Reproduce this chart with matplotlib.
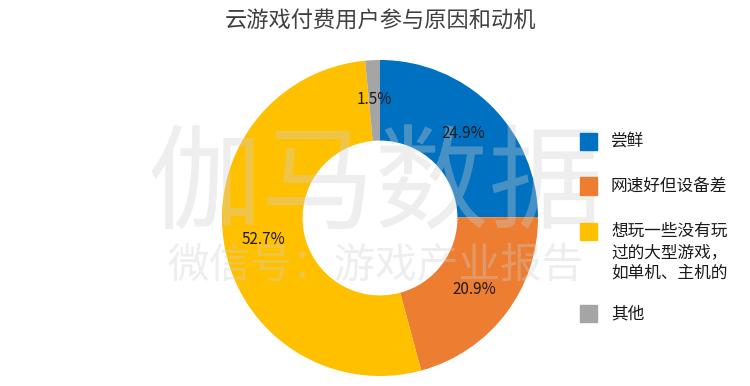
import matplotlib.pyplot as plt
from matplotlib.patches import Rectangle

plt.rcParams['font.family'] = ['Noto Sans CJK SC', 'DejaVu Sans']

# data
labels = ['尝鲜', '网速好但设备差', '想玩一些没有玩\n过的大型游戏，\n如单机、主机的', '其他']
shares = [24.9, 20.9, 52.7, 1.5]
colors = ['#0070C0', '#ED7D31', '#FFC000', '#A5A5A5']
title = '云游戏付费用户参与原因和动机'

fig = plt.figure(figsize=(7.5, 3.86), dpi=100)
W, H = 750, 386

# pie axes: centre (380, 218) px, radius 158 px
r = 158
ax = fig.add_axes([(380 - r) / W, (H - 218 - r) / H, 2 * r / W, 2 * r / H])
wedges, texts, autotexts = ax.pie(
    shares, colors=colors, startangle=90, counterclock=False,
    radius=1.0, wedgeprops=dict(width=0.51, linewidth=0),
    autopct='%.1f%%', pctdistance=0.75,
    textprops=dict(fontsize=11, color='#1a1a1a'))
for t in autotexts:
    t.set_zorder(20)
ax.set_xlim(-1, 1)
ax.set_ylim(-1, 1)
ax.set_aspect('auto')
ax.axis('off')

fig.text(380 / W, 1 - 21 / H, title, ha='center', va='center',
         fontsize=16, color='#404040')

# legend drawn by hand
leg_y = [141, 186, 231, 313]
for lab, col, y in zip(labels, colors, leg_y):
    fig.patches.append(Rectangle((580 / W, 1 - (y + 8.5) / H), 17 / W, 17 / H,
                                 transform=fig.transFigure, color=col))
    fig.text(611 / W, 1 - (y - 8) / H, lab, ha='left', va='top',
             fontsize=12, color='#1a1a1a', linespacing=1.3)

# watermark (between the wedges and the percentage labels)
ax.text(375 / W, 1 - 188 / H, '伽马数据', ha='center', va='center',
        transform=fig.transFigure, fontsize=82, color='#d0d0d0', alpha=0.35,
        zorder=10, clip_on=False)
ax.text(375 / W, 1 - 267 / H, '微信号：游戏产业报告', ha='center', va='center',
        transform=fig.transFigure, fontsize=30, color='#d0d0d0', alpha=0.35,
        zorder=10, clip_on=False)

fig.savefig('out.png', dpi=100)
